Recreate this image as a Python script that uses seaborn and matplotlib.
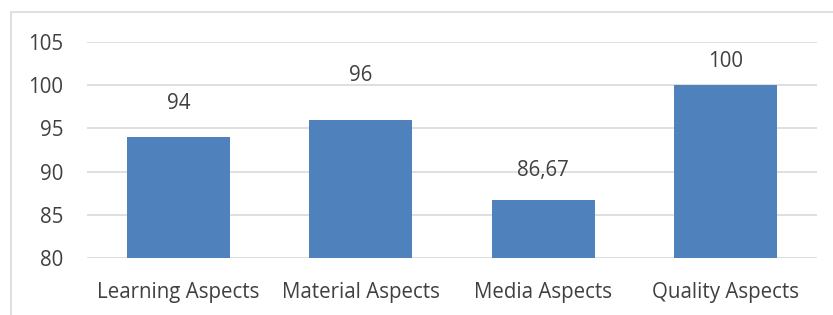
import matplotlib
matplotlib.use("Agg")
import matplotlib.pyplot as plt
import seaborn as sns
import pandas as pd
from matplotlib.patches import Rectangle

# data
aspects = ["Learning Aspects", "Material Aspects", "Media Aspects", "Quality Aspects"]
scores = [94, 96, 86.67, 100]
value_labels = ["94", "96", "86,67", "100"]
label_offsets = [3.9, 5.1, 3.5, 2.8]  # labels were hand-placed in the original

df = pd.DataFrame({"aspect": aspects, "score": scores})

sns.set_style("white")
plt.rcParams["font.family"] = ["Open Sans", "DejaVu Sans"]

text_color = "#404040"
grid_color = "#d9d9d9"
bar_color = "#4f81bd"
fs = 14.8

fig = plt.figure(figsize=(8.33, 3.15), dpi=100)
ax = fig.add_axes([87 / 833, 1 - 258 / 315, 730 / 833, 216 / 315])

sns.barplot(data=df, x="aspect", y="score", color=bar_color, width=0.565,
            saturation=1, ax=ax, zorder=3, linewidth=0)

ax.set_ylim(80, 105)
ax.set_yticks(range(80, 106, 5))
ax.yaxis.grid(True, color=grid_color, linewidth=1.2, zorder=0)
ax.set_axisbelow(True)
for side in ["top", "right", "left", "bottom"]:
    ax.spines[side].set_visible(False)
ax.set_xlabel("")
ax.set_ylabel("")
ax.tick_params(axis="y", length=0, pad=17, labelsize=fs, labelcolor=text_color)
ax.tick_params(axis="x", length=0, pad=17, labelsize=fs, labelcolor=text_color)

for i, (val, lab, off) in enumerate(zip(scores, value_labels, label_offsets)):
    ax.text(i, val + off, lab, ha="center", va="center", fontsize=fs, color=text_color)

# chart frame like in the spreadsheet export
fig.patches.append(Rectangle((11 / 833, -0.1), 1.2, 1 - 12 / 315 + 0.1,
                             transform=fig.transFigure, fill=False,
                             edgecolor=grid_color, linewidth=1.2))

fig.savefig("out.png", dpi=100)
